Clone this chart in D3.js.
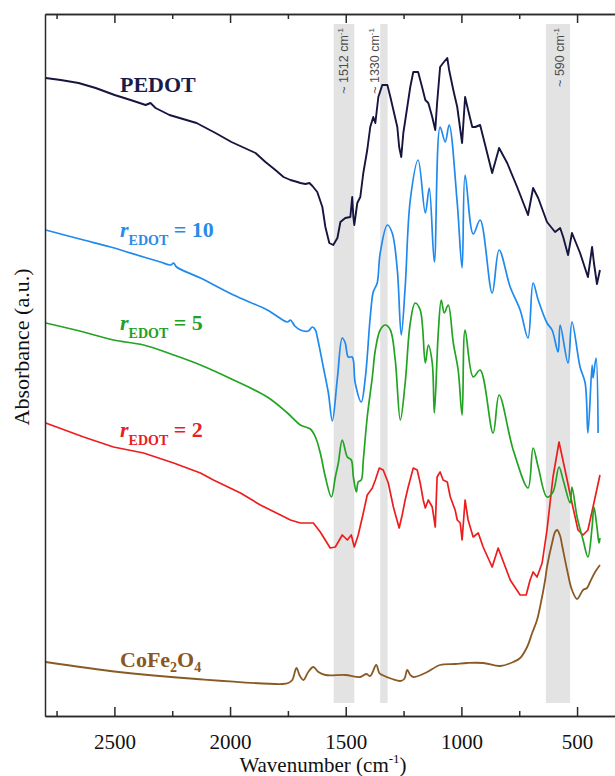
<!DOCTYPE html>
<html>
<head>
<meta charset="utf-8">
<script src="https://cdn.jsdelivr.net/npm/d3@7"></script>
<style>
  html, body { margin: 0; padding: 0; background: #fff; overflow: hidden; }
  svg { display: block; }
</style>
</head>
<body>
<svg id="chart" width="615" height="776"></svg>
<script>
// FTIR spectra: wavenumber (cm-1) vs absorbance (a.u., stacked offsets)
const majorTicks = [2500, 2000, 1500, 1000, 500];
const minorTicks = [2750, 2250, 1750, 1250, 750];

// Highlighted absorption regions [high, low] and their labels
const bandRanges = [[1552, 1463], [1351, 1319], [635, 530]];
const bandLabels = ["~ 1512 cm", "~ 1330 cm", "~ 590 cm"];

const pedot = [
  [2797,6.38],[2732,6.36],[2655,6.33],[2581,6.28],[2499,6.21],[2430,6.16],[2365,6.11],[2344,6.13],
  [2322,6.08],[2262,6.01],[2145,5.93],[2063,5.83],[1994,5.74],[1890,5.63],[1847,5.54],[1804,5.46],
  [1769,5.39],[1739,5.36],[1709,5.34],[1696,5.33],[1674,5.32],[1657,5.33],[1644,5.30],[1623,5.24],
  [1601,5.09],[1588,4.89],[1571,4.73],[1554,4.71],[1536,4.78],[1523,4.94],[1502,4.98],[1480,4.99],
  [1472,5.19],[1467,4.99],[1463,4.91],[1450,5.13],[1437,5.19],[1424,5.43],[1407,5.66],[1394,5.89],
  [1381,5.99],[1372,5.93],[1359,6.19],[1342,6.31],[1320,6.31],[1307,6.19],[1294,6.06],[1277,5.89],
  [1269,5.69],[1260,5.59],[1251,5.83],[1234,6.09],[1221,6.29],[1208,6.44],[1187,6.44],[1170,6.29],
  [1156,6.16],[1143,6.13],[1126,5.99],[1113,5.86],[1105,6.13],[1092,6.49],[1079,6.53],[1061,6.58],
  [1053,6.46],[1035,6.26],[1018,6.09],[997,5.73],[984,6.19],[971,6.06],[953,5.89],[940,5.89],
  [919,5.91],[906,5.79],[867,5.43],[837,5.68],[802,5.53],[759,5.29],[712,5.01],[690,5.28],
  [668,5.18],[630,4.94],[595,4.84],[573,4.88],[560,4.79],[539,4.61],[522,4.83],[487,4.63],
  [453,4.39],[435,4.69],[427,4.53],[414,4.32],[401,4.46]
];

const rEdot10 = [
  [2797,4.86],[2633,4.76],[2517,4.69],[2374,4.59],[2301,4.54],[2257,4.51],[2244,4.53],[2231,4.49],
  [2128,4.38],[1985,4.21],[1839,4.06],[1752,3.94],[1739,3.96],[1720,3.90],[1696,3.86],[1662,3.85],
  [1644,3.89],[1631,3.86],[1623,3.79],[1597,3.49],[1575,3.23],[1558,2.95],[1536,3.38],[1515,3.78],
  [1502,3.73],[1489,3.59],[1472,3.59],[1459,3.33],[1433,3.14],[1415,3.39],[1394,3.99],[1381,4.24],
  [1364,4.33],[1351,4.63],[1320,4.91],[1299,4.83],[1277,4.46],[1260,3.81],[1243,4.29],[1221,5.16],
  [1187,5.56],[1156,5.03],[1139,5.28],[1117,4.54],[1092,5.89],[1070,5.74],[1053,5.91],[1018,5.13],
  [997,4.48],[984,5.41],[949,4.82],[919,4.96],[867,4.23],[837,4.66],[789,4.29],[746,4.06],
  [712,3.78],[690,4.33],[668,4.16],[630,3.93],[608,3.86],[582,3.64],[573,3.91],[539,3.53],
  [522,3.94],[487,3.49],[465,3.33],[453,2.83],[435,3.51],[431,3.38],[418,3.58],[409,2.83]
];

const rEdot5 = [
  [2797,3.93],[2633,3.84],[2504,3.76],[2374,3.71],[2244,3.61],[2128,3.51],[1985,3.36],[1839,3.19],
  [1752,3.03],[1696,2.91],[1653,2.87],[1631,2.79],[1610,2.63],[1588,2.39],[1562,2.19],[1545,2.39],
  [1532,2.53],[1515,2.76],[1493,2.59],[1476,2.56],[1467,2.39],[1454,2.24],[1446,2.34],[1433,2.36],
  [1424,2.56],[1407,2.99],[1385,3.39],[1372,3.66],[1351,3.86],[1329,3.91],[1307,3.86],[1286,3.56],
  [1264,2.96],[1243,3.33],[1221,3.93],[1200,4.13],[1178,4.06],[1156,3.53],[1143,3.71],[1126,3.53],
  [1117,3.03],[1100,3.83],[1087,4.16],[1074,4.03],[1057,4.11],[1035,3.73],[1014,3.46],[997,3.01],
  [984,3.86],[949,3.39],[919,3.46],[863,2.83],[837,3.21],[776,2.66],[712,2.28],[690,2.68],
  [668,2.49],[630,2.19],[604,2.24],[578,2.49],[560,2.36],[530,2.13],[522,2.29],[500,1.99],
  [474,1.76],[453,1.59],[435,1.89],[427,2.09],[414,1.89],[405,1.73],[401,1.78]
];

const rEdot2 = [
  [2797,2.93],[2633,2.79],[2504,2.69],[2374,2.63],[2244,2.53],[2128,2.43],[2072,2.36],[1955,2.23],
  [1869,2.11],[1782,2.01],[1739,1.96],[1696,1.93],[1640,1.93],[1610,1.84],[1567,1.68],[1545,1.69],
  [1515,1.81],[1493,1.76],[1476,1.81],[1463,1.69],[1446,1.81],[1424,2.03],[1407,2.21],[1385,2.28],
  [1372,2.36],[1355,2.48],[1338,2.46],[1316,2.33],[1294,2.09],[1269,1.88],[1256,2.01],[1243,2.16],
  [1230,2.29],[1208,2.48],[1191,2.46],[1178,2.33],[1165,2.16],[1156,2.08],[1143,2.16],[1126,2.09],
  [1113,1.89],[1105,2.39],[1092,2.44],[1079,2.36],[1061,2.34],[1048,2.19],[1027,2.06],[1018,1.96],
  [1005,1.93],[997,1.76],[984,2.16],[971,1.96],[949,1.79],[927,1.83],[906,1.69],[867,1.49],
  [841,1.68],[789,1.36],[746,1.21],[720,1.21],[703,1.36],[690,1.44],[673,1.39],[651,1.53],
  [630,1.86],[604,2.39],[578,2.74],[552,2.46],[522,2.13],[496,1.86],[474,1.81],[453,1.86],
  [431,2.09],[401,2.41]
];

const cofe2o4 = [
  [2797,0.54],[2482,0.44],[2145,0.37],[1774,0.32],[1748,0.33],[1731,0.36],[1713,0.48],[1700,0.41],
  [1683,0.36],[1662,0.44],[1640,0.49],[1618,0.44],[1588,0.41],[1502,0.41],[1437,0.39],[1411,0.42],
  [1394,0.40],[1368,0.51],[1355,0.43],[1342,0.41],[1299,0.37],[1264,0.35],[1247,0.37],[1234,0.46],
  [1221,0.41],[1208,0.39],[1156,0.43],[1092,0.51],[1027,0.52],[975,0.53],[906,0.53],[832,0.50],
  [776,0.54],[746,0.58],[716,0.69],[694,0.83],[673,0.96],[660,1.09],[638,1.36],[630,1.49],
  [608,1.73],[595,1.84],[586,1.86],[573,1.80],[565,1.71],[543,1.46],[522,1.26],[500,1.17],
  [474,1.26],[457,1.28],[444,1.34],[422,1.44],[401,1.51]
];

const svg = d3.select("#chart");
const plotLeft = 45, plotTop = 14, plotBottom = 716, plotRight = 615;

const x = d3.scaleLinear().domain([2800, 336]).range([plotLeft, plotRight]);
const y = d3.scaleLinear().domain([0, 7.02]).range([plotBottom, plotTop]);

const serif = "'Liberation Serif', 'Times New Roman', serif";
const sans = "'Liberation Sans', Arial, sans-serif";

// Shaded bands with rotated labels
const bandTop = 24, bandBottom = 703;
const labelShift = [0, -9, 2];
bandRanges.forEach((b, i) => {
  svg.append("rect")
    .attr("x", x(b[0]))
    .attr("y", bandTop)
    .attr("width", x(b[1]) - x(b[0]))
    .attr("height", bandBottom - bandTop)
    .attr("fill", "#e3e3e3");
  const cx = (x(b[0]) + x(b[1])) / 2 + labelShift[i] + 4;
  const t = svg.append("text")
    .attr("transform", `translate(${cx},28) rotate(-90)`)
    .attr("text-anchor", "end")
    .attr("font-family", sans)
    .attr("font-size", 12.5)
    .attr("fill", "#4a4a4a");
  t.append("tspan").text(bandLabels[i]);
  t.append("tspan").attr("font-size", 8).attr("dy", -5).text("-1");
});

// Spectra
const series = [
  { data: cofe2o4, color: "#8a5a24", curve: d3.curveCatmullRom.alpha(0.5), w: 1.8 },
  { data: rEdot2, color: "#ee1d1d", curve: d3.curveLinear, w: 1.7 },
  { data: rEdot5, color: "#22a322", curve: d3.curveCatmullRom.alpha(0.5), w: 1.7 },
  { data: rEdot10, color: "#1f89ee", curve: d3.curveCatmullRom.alpha(0.5), w: 1.7 },
  { data: pedot, color: "#15153f", curve: d3.curveLinear, w: 1.9 }
];
series.forEach(s => {
  svg.append("path")
    .datum(s.data)
    .attr("fill", "none")
    .attr("stroke", s.color)
    .attr("stroke-width", s.w)
    .attr("stroke-linejoin", "round")
    .attr("d", d3.line().x(d => x(d[0])).y(d => y(d[1])).curve(s.curve));
});

// Axes
const axisColor = "#2a2a2a";
function styleAxis(g) {
  g.selectAll("path, line").attr("stroke", axisColor).attr("stroke-width", 1.5);
  g.selectAll("text").attr("font-family", serif).attr("font-size", 21).attr("fill", "#111");
}
svg.append("g").attr("transform", `translate(0,${plotBottom})`)
  .call(d3.axisBottom(x).tickValues(majorTicks).tickSizeInner(-9).tickSizeOuter(0).tickPadding(18).tickFormat(d3.format("d")))
  .call(styleAxis);
svg.append("g").attr("transform", `translate(0,${plotBottom})`)
  .call(d3.axisBottom(x).tickValues(minorTicks).tickSizeInner(-5).tickSizeOuter(0).tickFormat(""))
  .call(styleAxis);
svg.append("g").attr("transform", `translate(0,${plotTop})`)
  .call(d3.axisTop(x).tickValues(majorTicks).tickSizeInner(-9).tickSizeOuter(0).tickFormat(""))
  .call(styleAxis);
svg.append("g").attr("transform", `translate(0,${plotTop})`)
  .call(d3.axisTop(x).tickValues(minorTicks).tickSizeInner(-5).tickSizeOuter(0).tickFormat(""))
  .call(styleAxis);
svg.append("g").attr("transform", `translate(${plotLeft},0)`)
  .call(d3.axisLeft(y).tickValues([]).tickSizeOuter(0))
  .call(styleAxis);

// Axis titles
const xt = svg.append("text")
  .attr("x", 323).attr("y", 772)
  .attr("text-anchor", "middle")
  .attr("font-family", serif).attr("font-size", 21).attr("fill", "#111");
xt.append("tspan").text("Wavenumber (cm");
xt.append("tspan").attr("font-size", 13).attr("dy", -9).text("-1");
xt.append("tspan").attr("dy", 9).text(")");

svg.append("text")
  .attr("transform", "translate(29,347) rotate(-90)")
  .attr("text-anchor", "middle")
  .attr("font-family", serif).attr("font-size", 22).attr("fill", "#111")
  .text("Absorbance (a.u.)");

// Series labels
svg.append("text")
  .attr("x", 120).attr("y", 92)
  .attr("font-family", serif).attr("font-size", 22).attr("font-weight", "bold")
  .attr("fill", "#1b1b4b").text("PEDOT");

function rLabel(yPos, value, color) {
  const t = svg.append("text")
    .attr("x", 120).attr("y", yPos)
    .attr("font-family", serif).attr("font-size", 22).attr("font-weight", "bold")
    .attr("fill", color);
  t.append("tspan").attr("font-style", "italic").text("r");
  t.append("tspan").attr("font-size", 14).attr("dy", 8).text("EDOT");
  t.append("tspan").attr("dy", -8).text(" = " + value);
}
rLabel(237, "10", "#2a8ae8");
rLabel(330, "5", "#23a023");
rLabel(437, "2", "#e8201f");

const ct = svg.append("text")
  .attr("x", 120).attr("y", 667)
  .attr("font-family", serif).attr("font-size", 22).attr("font-weight", "bold")
  .attr("fill", "#8a5722");
ct.append("tspan").text("CoFe");
ct.append("tspan").attr("font-size", 14).attr("dy", 5).text("2");
ct.append("tspan").attr("dy", -5).text("O");
ct.append("tspan").attr("font-size", 14).attr("dy", 5).text("4");
</script>
</body>
</html>
